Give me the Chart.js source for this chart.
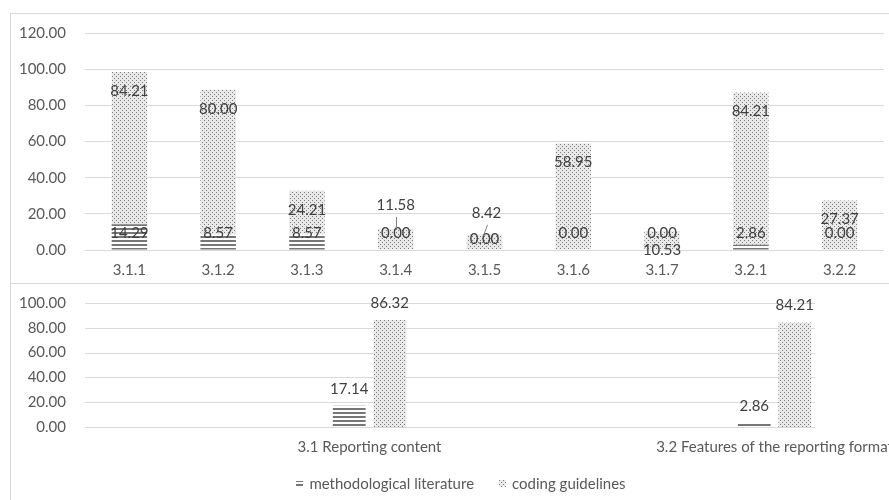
<!DOCTYPE html>
<html>
<head>
<meta charset="utf-8">
<script src="https://cdn.jsdelivr.net/npm/chart.js@4/dist/chart.umd.min.js"></script>
<style>
  html, body { margin: 0; padding: 0; background: #fff; }
  #wrap { position: relative; width: 889px; height: 500px; overflow: hidden; background: #fff; font-family: Lato, sans-serif; }
  .rule { position: absolute; background: #d9d9d9; }
  #topChart { position: absolute; left: 0; top: 0; }
  #bottomChart { position: absolute; left: 0; top: 284px; }
  #legend { position: absolute; left: 0; top: 473px; width: 922px; height: 20px; display: flex; justify-content: center; align-items: center; gap: 25px; font-size: 15px; color: #595959; }
  .item { display: flex; align-items: center; gap: 6px; white-space: nowrap; }
  .item canvas { display: block; }
</style>
</head>
<body>
<div id="wrap">
  <div class="rule" style="left:10px;top:13px;width:1px;height:487px;"></div>
  <div class="rule" style="left:10px;top:13px;width:879px;height:1px;"></div>
  <div class="rule" style="left:10px;top:283px;width:879px;height:1px;"></div>
  <canvas id="topChart" width="889" height="283"></canvas>
  <canvas id="bottomChart" width="1000" height="190"></canvas>
  <div id="legend"></div>
</div>
<script>
// Series names
const seriesNames = ['methodological literature', 'coding guidelines'];

// Per-item shares (%)
const itemCategories = ['3.1.1', '3.1.2', '3.1.3', '3.1.4', '3.1.5', '3.1.6', '3.1.7', '3.2.1', '3.2.2'];
const itemLiterature = [14.29, 8.57, 8.57, 0.00, 0.00, 0.00, 0.00, 2.86, 0.00];
const itemGuidelines = [84.21, 80.00, 24.21, 11.58, 8.42, 58.95, 10.53, 84.21, 27.37];

// Per-section shares (%)
const sectionCategories = ['3.1 Reporting content', '3.2 Features of the reporting format'];
const sectionLiterature = [17.14, 2.86];
const sectionGuidelines = [86.32, 84.21];

// Axis ticks
const itemTicks = { min: 0, max: 120, step: 20 };
const sectionTicks = { min: 0, max: 100, step: 20 };

const FONT = { family: 'Lato', size: 15 };
Chart.defaults.font.family = FONT.family;
Chart.defaults.font.size = FONT.size;
Chart.defaults.color = '#595959';

// Fill patterns: dark horizontal stripes and fine dots
function makeStripes() {
  const c = document.createElement('canvas');
  c.width = 4; c.height = 4;
  const g = c.getContext('2d');
  g.fillStyle = '#ffffff'; g.fillRect(0, 0, 4, 4);
  g.fillStyle = '#777777'; g.fillRect(0, 0, 4, 2);
  return g.createPattern(c, 'repeat');
}
function makeDots() {
  const c = document.createElement('canvas');
  c.width = 4; c.height = 4;
  const g = c.getContext('2d');
  g.fillStyle = '#e9e9e9'; g.fillRect(0, 0, 4, 4);
  g.fillStyle = '#7c7c7c';
  g.fillRect(0, 0, 1, 1);
  g.fillRect(2, 2, 1, 1);
  return g.createPattern(c, 'repeat');
}
const stripeFill = makeStripes();
const dotFill = makeDots();

const fmt = v => v.toFixed(2);
const LABEL_COLOR = '#404040';

// Guideline labels that sit above short bars, with a leader line
const guidelineCallouts = {
  '3.1.4': { dy: -24, dx: 0 },
  '3.1.5': { dy: -22, dx: 2 }
};
const literatureLabelShift = { '3.1.5': 6 };

const itemLabels = {
  id: 'itemLabels',
  afterDatasetsDraw(chart) {
    const ctx = chart.ctx;
    const base = chart.scales.y.getPixelForValue(0);
    const lit = chart.getDatasetMeta(0).data;
    const gui = chart.getDatasetMeta(1).data;
    ctx.save();
    ctx.font = FONT.size + 'px ' + FONT.family;
    ctx.fillStyle = LABEL_COLOR;
    ctx.textAlign = 'center';
    ctx.textBaseline = 'middle';
    itemCategories.forEach((cat, i) => {
      ctx.fillText(fmt(itemLiterature[i]), lit[i].x, base - 17 + (literatureLabelShift[cat] || 0));
      const bar = gui[i];
      const call = guidelineCallouts[cat];
      if (call) {
        const lx = bar.x + call.dx, ly = bar.y + call.dy;
        ctx.fillText(fmt(itemGuidelines[i]), lx, ly);
        ctx.strokeStyle = '#7f7f7f';
        ctx.lineWidth = 1;
        ctx.beginPath();
        ctx.moveTo(Math.round(lx) + 0.5, ly + 12);
        ctx.lineTo(Math.round(bar.x - call.dx * 0.8) + 0.5, bar.y + 1);
        ctx.stroke();
      } else {
        ctx.fillText(fmt(itemGuidelines[i]), bar.x, bar.y + 19);
      }
    });
    ctx.restore();
  }
};

new Chart(document.getElementById('topChart'), {
  type: 'bar',
  data: {
    labels: itemCategories,
    datasets: [
      { label: seriesNames[0], data: itemLiterature, backgroundColor: stripeFill, borderWidth: 0 },
      { label: seriesNames[1], data: itemGuidelines, backgroundColor: dotFill, borderWidth: 0 }
    ]
  },
  options: {
    responsive: false,
    animation: false,
    layout: { padding: { top: 33, right: 5, left: 0, bottom: 0 } },
    datasets: { bar: { categoryPercentage: 1, barPercentage: 0.4 } },
    plugins: { legend: { display: false }, tooltip: { enabled: false } },
    scales: {
      x: {
        stacked: true,
        grid: { display: false, drawTicks: false },
        border: { display: false },
        ticks: { padding: 11, maxRotation: 0, autoSkip: false },
        afterFit(s) { s.height = 33; }
      },
      y: {
        stacked: true,
        min: itemTicks.min, max: itemTicks.max,
        ticks: { stepSize: itemTicks.step, padding: 19, callback: v => fmt(v) },
        grid: { color: '#d9d9d9', lineWidth: 1, drawTicks: false },
        border: { display: false },
        afterFit(s) { s.width = 85; }
      }
    }
  },
  plugins: [itemLabels]
});

// Section chart: gridlines span the plot frame, labels sit above bars
const GRID_LEFT = 85, GRID_RIGHT = 815;
const sectionGrid = {
  id: 'sectionGrid',
  beforeDatasetsDraw(chart) {
    const ctx = chart.ctx;
    const y = chart.scales.y;
    ctx.save();
    ctx.strokeStyle = '#d9d9d9';
    ctx.lineWidth = 1;
    y.ticks.forEach(t => {
      const py = Math.round(y.getPixelForValue(t.value)) + 0.5;
      ctx.beginPath();
      ctx.moveTo(GRID_LEFT, py);
      ctx.lineTo(GRID_RIGHT, py);
      ctx.stroke();
    });
    ctx.restore();
  }
};
const sectionLabels = {
  id: 'sectionLabels',
  afterDatasetsDraw(chart) {
    const ctx = chart.ctx;
    ctx.save();
    ctx.font = FONT.size + 'px ' + FONT.family;
    ctx.fillStyle = LABEL_COLOR;
    ctx.textAlign = 'center';
    ctx.textBaseline = 'middle';
    [sectionLiterature, sectionGuidelines].forEach((vals, d) => {
      chart.getDatasetMeta(d).data.forEach((bar, i) => {
        ctx.fillText(fmt(vals[i]), bar.x, bar.y - 17);
      });
    });
    ctx.restore();
  }
};

new Chart(document.getElementById('bottomChart'), {
  type: 'bar',
  data: {
    labels: sectionCategories,
    datasets: [
      { label: seriesNames[0], data: sectionLiterature, backgroundColor: stripeFill, borderWidth: 0 },
      { label: seriesNames[1], data: sectionGuidelines, backgroundColor: dotFill, borderWidth: 0 }
    ]
  },
  options: {
    responsive: false,
    animation: false,
    layout: { padding: { top: 19, right: 23, left: 0, bottom: 0 } },
    datasets: { bar: { categoryPercentage: 0.2, barPercentage: 0.81 } },
    plugins: { legend: { display: false }, tooltip: { enabled: false } },
    scales: {
      x: {
        offset: true,
        grid: { display: false, drawTicks: false },
        border: { display: false },
        ticks: { padding: 11, maxRotation: 0, minRotation: 0, autoSkip: false },
        afterFit(s) { s.height = 47; }
      },
      y: {
        min: sectionTicks.min, max: sectionTicks.max,
        ticks: { stepSize: sectionTicks.step, padding: 101, callback: v => fmt(v) },
        grid: { display: false, drawTicks: false },
        border: { display: false },
        afterFit(s) {
          s.width = 167;
          // the wide label gap is horizontal only
          s.paddingTop = 0;
          s.paddingBottom = 0;
        }
      }
    }
  },
  plugins: [sectionGrid, sectionLabels]
});

// Legend
const legend = document.getElementById('legend');
[stripeFill, dotFill].forEach((fill, i) => {
  const item = document.createElement('div');
  item.className = 'item';
  const sw = document.createElement('canvas');
  sw.width = 7; sw.height = 7;
  const g = sw.getContext('2d');
  g.fillStyle = fill;
  if (i === 0) g.fillRect(0, 1, 7, 6); else g.fillRect(0, 0, 7, 7);
  const txt = document.createElement('span');
  txt.textContent = seriesNames[i];
  item.appendChild(sw);
  item.appendChild(txt);
  legend.appendChild(item);
});
</script>
</body>
</html>
